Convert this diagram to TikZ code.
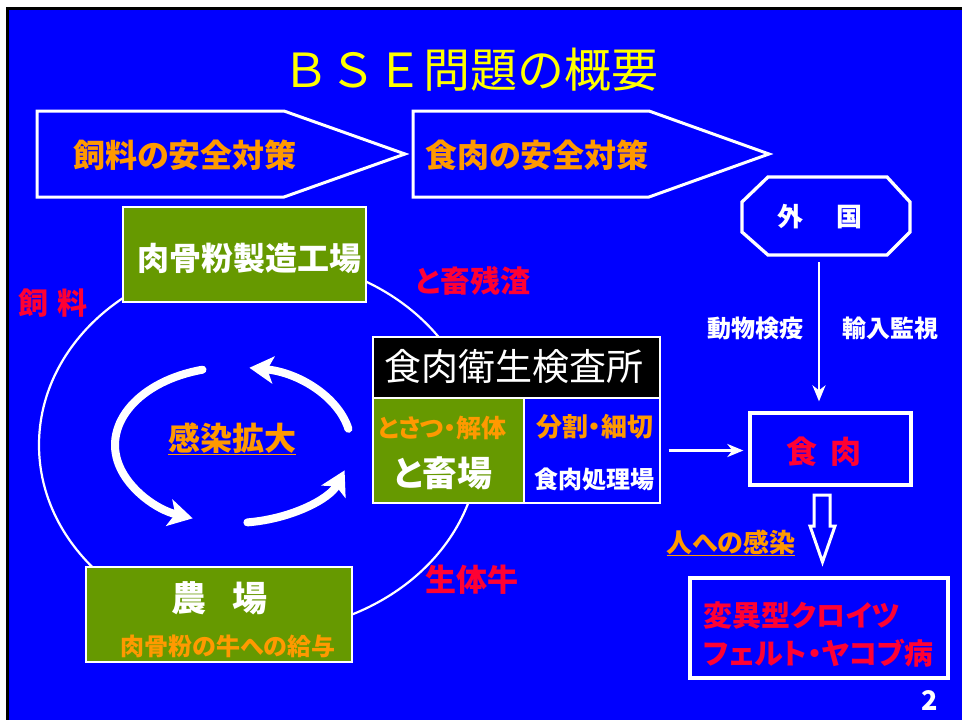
\documentclass[tikz,border=0pt]{standalone}
\usepackage{fontspec}
\setmainfont{Noto Sans CJK JP}[RawFeature={+palt}]
\newfontfamily\titlefont{Noto Sans CJK JP}
\usetikzlibrary{arrows.meta}
\definecolor{bbg}{HTML}{0000FF}
\definecolor{ogreen}{HTML}{669900}
\definecolor{orng}{HTML}{FF9900}
\definecolor{rred}{HTML}{FF0033}
\definecolor{ylw}{HTML}{FFFF00}
\newcommand\fsz[1]{\fontsize{#1pt}{#1pt}\selectfont}
\begin{document}
\begin{tikzpicture}[x=1pt,y=-1pt,
  txt/.style={inner sep=0pt, outer sep=0pt},
  gbox/.style={draw=white, line width=1.3pt, fill=ogreen, inner sep=0pt},
  wframe/.style={draw=white, line width=3.3pt, inner sep=0pt},
  wline/.style={draw=white, line width=3pt, line join=miter},
  conn/.style={white, line width=2.5pt, -{Stealth[length=16pt,width=13pt,inset=5pt]}},
  inarr/.style={white, line width=8pt, line cap=round, -{Stealth[length=24pt,width=27pt,inset=6pt]}},
  uline/.style={orng, line width=1.5pt}]
\useasboundingbox (0,0) rectangle (962,720);
\fill[white] (0,0) rectangle (962,720);
\fill[black] (6,7) rectangle (962,720);
\fill[bbg] (9,10) rectangle (962,720);

% title
\node[txt, text=ylw, font=\titlefont\fsz{47}] (title) at (470,70) {ＢＳＥ問題の概要};

% top pentagons
\draw[wline] (37,111) -- (284,111) -- (405,154) -- (284,197) -- (37,197) -- cycle;
\draw[wline] (413,111) -- (649,111) -- (769,154) -- (649,197) -- (413,197) -- cycle;
\node[txt, text=orng, font=\fsz{32}\bfseries] (feedsafe) at (185,155) {飼料の安全対策};
\node[txt, text=orng, font=\fsz{32}\bfseries] (meatsafe) at (537,155) {食肉の安全対策};

% big cycle
\draw[white, line width=2.2pt] (259,445) ellipse [x radius=220, y radius=187];

% inner cycle arrows
\draw[inarr] (202.5,369.7) arc[start angle=255, end angle=110, x radius=118, y radius=78];
\draw[inarr] (247.4,522.4) arc[start angle=83, end angle=19, x radius=118, y radius=78];
\draw[inarr] (348.4,428.8) arc[start angle=-12, end angle=-82, x radius=118, y radius=78];
\node[txt, text=orng, font=\fsz{32}\bfseries] (kakudai) at (232,438) {感染拡大};
\draw[uline] ([yshift=-1pt]kakudai.south west) -- ([yshift=-1pt]kakudai.south east);

% factory
\node[gbox, minimum width=243pt, minimum height=95pt] (factory) at (244.5,254.5) {};
\node[txt, text=white, font=\fsz{32}\bfseries] (factorytxt) at (249,258) {肉骨粉製造工場};

% farm
\node[gbox, minimum width=266pt, minimum height=95pt] (farm) at (219,614.5) {};
\node[txt, text=white, font=\fsz{35}\bfseries] (farmtxt) at (219.5,598) {農\hspace{26pt}場};
\node[txt, text=orng, font=\fsz{24}\bfseries] (farmsub) at (228,646) {肉骨粉の牛への給与};

% inspection block
\node[draw=white, line width=1.3pt, fill=black, minimum width=287pt, minimum height=61pt, inner sep=0pt] (insp) at (516.5,367.5) {};
\node[txt, text=white, font=\fsz{37}] (insptxt) at (513.5,367) {食肉衛生検査所};
\node[gbox, minimum width=151pt, minimum height=105pt] (slaughter) at (448.5,450.5) {};
\node[draw=white, line width=1.3pt, fill=bbg, minimum width=136pt, minimum height=105pt, inner sep=0pt] (proc) at (592,450.5) {};
\node[txt, text=orng, font=\fsz{25}\bfseries] (tosatsu) at (442,428) {とさつ・解体};
\node[txt, text=white, font=\fsz{35}\bfseries] (tochiku) at (443,473) {と畜場};
\node[txt, text=orng, font=\fsz{26}\bfseries] (bunkatsu) at (594.5,427) {分割・細切};
\node[txt, text=white, font=\fsz{24}\bfseries] (shori) at (594.5,479) {食肉処理場};

% side labels
\node[txt, text=rred, font=\fsz{30}\bfseries] (feed) at (53,303) {飼\hspace{10pt}料};
\node[txt, text=rred, font=\fsz{30}\bfseries] (residue) at (473,281) {と畜残渣};
\node[txt, text=rred, font=\fsz{31}\bfseries] (cattle) at (472,580) {生体牛};

% overseas
\draw[draw=white, line width=3.3pt, line join=miter] (768,177) -- (887,177) -- (910,202) -- (910,232) -- (887,255) -- (768,255) -- (742,232) -- (742,202) -- cycle;
\node[txt, text=white, font=\fsz{26}\bfseries] (ov) at (820,217) {外\hspace{33pt}国};
\coordinate (ovs) at (819,262);
\node[txt, text=white, font=\fsz{24}\bfseries] (quar) at (755,328) {動物検疫};
\node[txt, text=white, font=\fsz{24}\bfseries] (imp) at (890,328) {輸入監視};

% meat box
\node[wframe, minimum width=161pt, minimum height=72pt] (meat) at (830.5,449) {};
\node[txt, text=rred, font=\fsz{31}\bfseries] (meattxt) at (824,452) {食\hspace{14pt}肉};
\draw[conn, shorten >=10pt] (ovs) -- (ovs |- meat.north);
\draw[conn, shorten <=8pt, shorten >=5pt] (proc.east) -- (proc.east -| meat.west);

% hollow arrow
\draw[wline] (814,495) -- (830,495) -- (830,526) -- (835,526) -- (822.5,562) -- (810,526) -- (814,526) -- cycle;
\node[txt, text=orng, font=\fsz{26}\bfseries] (human) at (731,542) {人への感染};
\draw[uline] ([yshift=-1pt]human.south west) -- ([yshift=-1pt]human.south east);

% vCJD
\node[wframe, minimum width=258pt, minimum height=100pt] (cjd) at (819,628) {};
\node[txt, align=left, text=rred, font=\fontsize{29pt}{38pt}\selectfont\bfseries] (cjdtxt) at (818.5,634) {変異型クロイツ\\フェルト・ヤコブ病};

% page number
\node[txt, text=white, font=\fsz{27}\bfseries] (pnum) at (930,701) {2};
\end{tikzpicture}
\end{document}
